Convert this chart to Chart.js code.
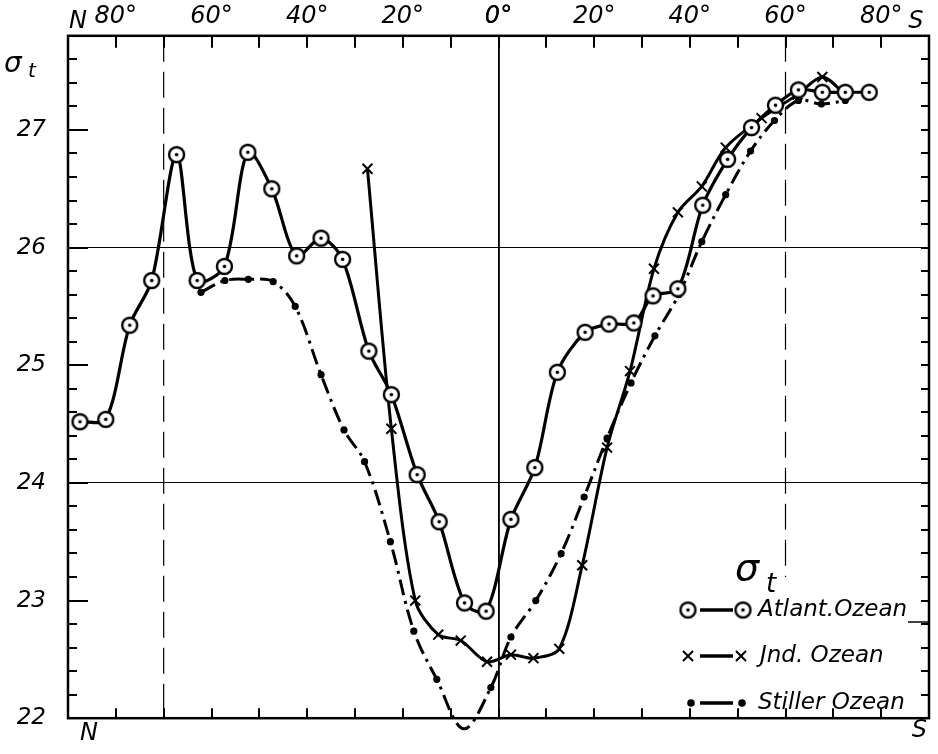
<!DOCTYPE html>
<html>
<head>
<meta charset="utf-8">
<script src="https://cdn.jsdelivr.net/npm/chart.js@4.4.0/dist/chart.umd.min.js"></script>
<style>
  html, body { margin: 0; padding: 0; background: #fff; }
  #wrap { width: 938px; height: 754px; }
</style>
</head>
<body>
<div id="wrap"><canvas id="sigmaChart" width="938" height="754"></canvas></div>
<script>
// latitude: negative = north, positive = south
const LAT_ATL = [-87.5, -82.1, -77.1, -72.5, -67.3, -63.0, -57.3, -52.4, -47.4, -42.2, -37.1, -32.6, -27.1, -22.4, -17.0, -12.4, -7.1, -2.6, 2.6, 7.6, 12.3, 18.1, 23.1, 28.3, 32.3, 37.5, 42.7, 47.9, 52.9, 57.9, 62.7, 67.7, 72.5, 77.5];
const SIG_ATL = [24.52, 24.54, 25.34, 25.72, 26.79, 25.72, 25.84, 26.81, 26.50, 25.93, 26.08, 25.90, 25.12, 24.75, 24.07, 23.67, 22.98, 22.91, 23.69, 24.13, 24.94, 25.28, 25.35, 25.36, 25.59, 25.65, 26.36, 26.75, 27.02, 27.21, 27.34, 27.32, 27.32, 27.32];

const LAT_IND = [-27.4, -22.4, -17.4, -12.6, -7.9, -2.4, 2.6, 7.3, 12.7, 17.5, 22.7, 27.5, 32.5, 37.5, 42.5, 47.5, 55.0, 62.5, 67.7, 72.5];
const SIG_IND = [26.67, 24.46, 23.00, 22.71, 22.66, 22.48, 22.54, 22.51, 22.59, 23.30, 24.30, 24.95, 25.82, 26.30, 26.52, 26.85, 27.10, 27.30, 27.45, 27.30];

const LAT_PAC = [-62.2, -57.2, -52.3, -47.1, -42.5, -37.1, -32.3, -28.0, -22.6, -17.7, -12.9, -7.3, -1.6, 2.6, 7.8, 13.1, 17.9, 22.7, 27.7, 32.7, 37.7, 42.5, 47.5, 52.7, 57.7, 62.7, 67.5, 72.5];
const SIG_PAC = [25.62, 25.72, 25.73, 25.71, 25.50, 24.92, 24.45, 24.18, 23.50, 22.74, 22.33, 21.91, 22.26, 22.69, 23.00, 23.40, 23.88, 24.38, 24.85, 25.25, 25.60, 26.05, 26.45, 26.82, 27.08, 27.25, 27.22, 27.25];

const LAT_LABELS = [-80, -60, -40, -20, 0, 20, 40, 60, 80];
const SIG_TICKS = [22, 23, 24, 25, 26, 27];
const SIG_GRID = [24, 26];
const LAT_GRID = [0];
const LAT_DASHED = [-70, 60];
const SERIES_NAMES = ['Atlant.Ozean', 'Jnd. Ozean', 'Stiller Ozean'];

const FAMILY = '"DejaVu Sans", sans-serif';
const FONT = 'italic 24px ' + FAMILY;

function pts(xs, ys) { return xs.map((x, i) => ({ x: x, y: ys[i] })); }

// circle with a dot in the middle
function ringDot(r) {
    const c = document.createElement('canvas');
    const s = 2 * r + 6;
    c.width = s; c.height = s;
    const g = c.getContext('2d');
    g.beginPath();
    g.arc(s / 2, s / 2, r, 0, 2 * Math.PI);
    g.fillStyle = '#fff';
    g.fill();
    g.lineWidth = 2.4;
    g.strokeStyle = '#000';
    g.stroke();
    g.beginPath();
    g.arc(s / 2, s / 2, 1.8, 0, 2 * Math.PI);
    g.fillStyle = '#000';
    g.fill();
    return c;
}
const ringImg = ringDot(7.5);

const decor = {
    id: 'decor',
    beforeDatasetsDraw(chart) {
        const { ctx, chartArea: a, scales: { x, y } } = chart;
        ctx.save();
        ctx.strokeStyle = '#000';
        ctx.lineWidth = 1.2;
        ctx.setLineDash([26, 10]);
        LAT_DASHED.forEach(v => {
            const px = x.getPixelForValue(v);
            ctx.beginPath();
            ctx.moveTo(px, a.top);
            ctx.lineTo(px, v > 0 ? y.getPixelForValue(23.2) : a.bottom);
            ctx.stroke();
        });
        ctx.restore();
    },
    afterDraw(chart) {
        const { ctx, chartArea: a, scales: { x, y } } = chart;
        ctx.save();
        ctx.strokeStyle = '#000';
        ctx.fillStyle = '#000';
        // frame
        ctx.lineWidth = 2.5;
        ctx.strokeRect(a.left, a.top, a.right - a.left, a.bottom - a.top);
        // inward ticks
        ctx.lineWidth = 2;
        for (let v = 22; v <= 27.81; v += 0.2) {
            const py = Math.round(y.getPixelForValue(v));
            const major = Math.abs(v - Math.round(v)) < 0.01;
            ctx.beginPath();
            ctx.moveTo(a.left, py);
            ctx.lineTo(a.left + (major ? 20 : 9), py);
            ctx.moveTo(a.right, py);
            ctx.lineTo(a.right - 8, py);
            ctx.stroke();
        }
        for (let v = -80; v <= 80; v += 10) {
            const px = Math.round(x.getPixelForValue(v));
            ctx.beginPath();
            ctx.moveTo(px, a.top);
            ctx.lineTo(px, a.top + 12);
            ctx.moveTo(px, a.bottom);
            ctx.lineTo(px, a.bottom - 10);
            ctx.stroke();
        }
        // N / S letters
        ctx.font = FONT;
        ctx.textBaseline = 'alphabetic';
        ctx.textAlign = 'right';
        ctx.fillText('N', x.getPixelForValue(-80) - 29, 28);
        ctx.textAlign = 'left';
        ctx.fillText('S', x.getPixelForValue(80) + 27, 28);
        ctx.textBaseline = 'top';
        ctx.fillText('N', a.left + 12, a.bottom + 4);
        ctx.textAlign = 'right';
        ctx.fillText('S', a.right - 2, a.bottom + 1);
        // axis title sigma t
        ctx.textAlign = 'left';
        ctx.textBaseline = 'alphabetic';
        ctx.font = 'italic 28px ' + FAMILY;
        ctx.fillText('σ', 4, 72);
        ctx.font = 'italic 20px ' + FAMILY;
        ctx.fillText('t', 28, 77);

        // legend
        ctx.font = 'italic 38px ' + FAMILY;
        ctx.fillText('σ', 735, 580);
        ctx.font = 'italic 26px ' + FAMILY;
        ctx.fillText('t', 766, 592);

        ctx.font = 'italic 23px ' + FAMILY;
        ctx.textBaseline = 'middle';
        const rows = [610, 656, 703];
        ctx.lineWidth = 3.5;
        rows.forEach(ry => {
            ctx.beginPath();
            ctx.moveTo(700, ry);
            ctx.lineTo(733, ry);
            ctx.stroke();
        });
        ctx.drawImage(ringImg, 688 - ringImg.width / 2, rows[0] - ringImg.height / 2);
        ctx.drawImage(ringImg, 743 - ringImg.width / 2, rows[0] - ringImg.height / 2);
        ctx.lineWidth = 2;
        [[688, rows[1]], [741, rows[1]]].forEach(([cx, cy]) => {
            ctx.beginPath();
            ctx.moveTo(cx - 5, cy - 5); ctx.lineTo(cx + 5, cy + 5);
            ctx.moveTo(cx + 5, cy - 5); ctx.lineTo(cx - 5, cy + 5);
            ctx.stroke();
        });
        [[691, rows[2]], [742, rows[2]]].forEach(([cx, cy]) => {
            ctx.beginPath();
            ctx.arc(cx, cy, 3.8, 0, 2 * Math.PI);
            ctx.fill();
        });
        ctx.fillText(SERIES_NAMES[0], 758, rows[0]);
        ctx.fillText(SERIES_NAMES[1], 760, rows[1]);
        ctx.fillText(SERIES_NAMES[2], 758, rows[2]);
        ctx.lineWidth = 1.5;
        ctx.beginPath();
        ctx.moveTo(908, rows[0] + 12);
        ctx.lineTo(a.right, rows[0] + 12);
        ctx.stroke();
        ctx.restore();
    }
};

const ctx = document.getElementById('sigmaChart').getContext('2d');
const sigmaChart = new Chart(ctx, {
    type: 'line',
    data: {
        datasets: [
            {
                label: SERIES_NAMES[2],
                data: pts(LAT_PAC, SIG_PAC),
                borderColor: '#000',
                borderWidth: 3,
                borderDash: [16, 6, 3, 6],
                pointStyle: 'circle',
                pointRadius: 3.6,
                pointBackgroundColor: '#000',
                pointBorderWidth: 0,
                tension: 0.35,
                clip: false,
                order: 3
            },
            {
                label: SERIES_NAMES[1],
                data: pts(LAT_IND, SIG_IND),
                borderColor: '#000',
                borderWidth: 3,
                pointStyle: 'crossRot',
                pointRadius: 7,
                pointBorderWidth: 2,
                pointBorderColor: '#000',
                pointBackgroundColor: '#fff',
                tension: 0.3,
                order: 2
            },
            {
                label: SERIES_NAMES[0],
                data: pts(LAT_ATL, SIG_ATL),
                borderColor: '#000',
                borderWidth: 3.2,
                pointStyle: ringImg,
                tension: 0.3,
                order: 1
            }
        ]
    },
    options: {
        responsive: false,
        animation: false,
        layout: { padding: { right: 6, bottom: 18, left: 0, top: 0 } },
        plugins: {
            legend: { display: false },
            tooltip: { enabled: false }
        },
        scales: {
            x: {
                type: 'linear',
                position: 'top',
                min: -90,
                max: 90,
                afterFit: s => { s.height = 35; },
                afterBuildTicks: s => { s.ticks = LAT_LABELS.concat(LAT_GRID).map(v => ({ value: v })); },
                border: { display: false },
                grid: {
                    drawTicks: false,
                    color: c => LAT_GRID.includes(c.tick && c.tick.value) ? '#000' : 'rgba(0,0,0,0)',
                    lineWidth: 1.6
                },
                ticks: {
                    padding: 5,
                    color: '#000',
                    font: { family: FAMILY, size: 24, style: 'italic' },
                    callback: v => Math.abs(v) + '°'
                }
            },
            y: {
                type: 'linear',
                min: 22,
                max: 27.8,
                afterFit: s => { s.width = 68; },
                afterBuildTicks: s => { s.ticks = SIG_TICKS.map(v => ({ value: v })); },
                border: { display: false },
                grid: {
                    drawTicks: false,
                    color: c => SIG_GRID.includes(c.tick && c.tick.value) ? '#000' : 'rgba(0,0,0,0)',
                    lineWidth: 1
                },
                ticks: {
                    padding: 22,
                    color: '#000',
                    font: { family: FAMILY, size: 23, style: 'italic' }
                }
            }
        }
    },
    plugins: [decor]
});
</script>
</body>
</html>
